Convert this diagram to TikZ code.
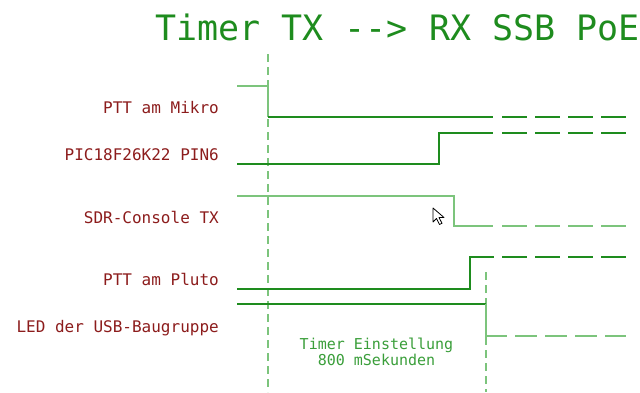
\documentclass[tikz,border=0pt]{standalone}
\usepackage{fontspec}
\setmonofont{DejaVu Sans Mono}
\definecolor{sigdark}{HTML}{1E8C1E}
\definecolor{siglight}{HTML}{7CC47C}
\definecolor{labelred}{HTML}{8C1C1C}
\definecolor{notegreen}{HTML}{3A9E3A}
\begin{document}
\begin{tikzpicture}
        [
            x=1pt, y=-1pt,
            siglabel/.style={anchor=base east, inner sep=0pt, text=labelred, font=\ttfamily\fontsize{16}{18}\selectfont},
            sig/.style={draw=sigdark, line width=1.1pt},
            sigl/.style={draw=siglight, line width=1.8pt},
            open/.style={dash pattern=on 25pt off 8pt},
            marker/.style={draw=siglight, line width=2pt, dash pattern=on 8pt off 5pt}
        ]
        \useasboundingbox (0,0) rectangle (640,392);

        \node[inner sep=0pt, anchor=base, text=sigdark, font=\ttfamily\fontsize{35}{38}\selectfont] (title) at (397.5, 40) {Timer TX --> RX SSB PoE};

        \node[siglabel] (lmikro) at (219, 113) {PTT am Mikro};
        \node[siglabel] (lpic) at (219, 160) {PIC18F26K22 PIN6};
        \node[siglabel] (lsdr) at (219, 223) {SDR-Console TX};
        \node[siglabel] (lpluto) at (219, 285) {PTT am Pluto};
        \node[siglabel] (lled) at (219, 332) {LED der USB-Baugruppe};

        \coordinate (mikro) at (237, 86);
        \coordinate (pic) at (237, 164);
        \coordinate (sdr) at (237, 196);
        \coordinate (pluto) at (237, 289);
        \coordinate (led) at (237, 304);

        % start / end of the timer
        \coordinate (tx) at (268, 54);
        \coordinate (rx) at (486, 272);
        \draw[marker] (tx) -- (tx |- 0,392);
        \draw[marker] (rx) -- (rx |- 0,392);

        \draw[sigl] (mikro) -- ++(31,0) -- ++(0,31);
        \draw[sig] (268, 117) -- (493, 117);
        \draw[sig, open] (502, 117) -- (626, 117);

        \draw[sig] (pic) -- ++(202,0) -- ++(0,-31) -- (493, 133);
        \draw[sig, open] (502, 133) -- (626, 133);

        \draw[sigl] (sdr) -- ++(217,0) -- ++(0,30) -- (493, 226);
        \draw[sigl, open] (502, 226) -- (626, 226);

        \draw[sig] (pluto) -- ++(233,0) -- ++(0,-32) -- (494, 257);
        \draw[sig, open] (502, 257) -- (626, 257);

        \draw[sig] (led) -- (rx |- led);
        \draw[sigl] (rx |- led) -- (486, 336) -- (507, 336);
        \draw[sigl, dash pattern=on 22pt off 8pt] (515, 336) -- (626, 336);

        \node[align=center, inner sep=0pt, text=notegreen, font=\ttfamily\fontsize{15}{16}\selectfont] (timer) at (376.5, 352) {Timer Einstellung\\800 mSekunden};

        % mouse pointer
        \draw[fill=white, line width=0.8pt, line join=round] (433, 208) -- ++(0,14) -- ++(3.5,-3.5) -- ++(3,6) -- ++(2.5,-1.2) -- ++(-3,-5.8) -- ++(5,0) -- cycle;

    \end{tikzpicture}
\end{document}
